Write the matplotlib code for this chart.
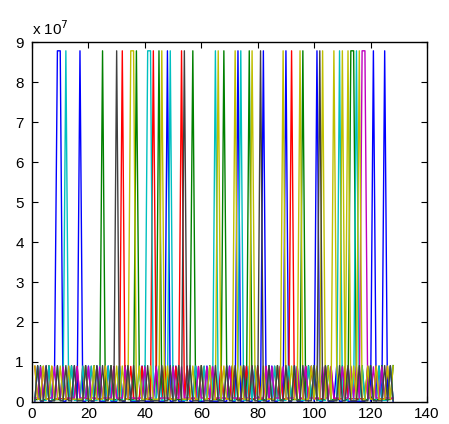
import numpy as np
import matplotlib
matplotlib.use("Agg")
import matplotlib.pyplot as plt

plt.rcParams.update({'font.size': 11, 'font.family': 'Liberation Sans'})

# x runs over 1..128 samples
n_samples = 128

# MATLAB-like colour order
colors = [(0, 0, 1), (0, 0.5, 0), (1, 0, 0), (0, 0.75, 0.75),
          (0.75, 0, 0.75), (0.75, 0.75, 0), (0.25, 0.25, 0.25)]

# tall spikes (x positions) per series
high_blue = [9, 10, 17, 48, 73, 82, 90, 101, 121, 125]
high_green = [25, 37, 45, 57, 68, 77, 96, 113, 114]
high_red = [32, 43, 53, 92]
high_cyan = [12, 41, 42, 49, 65, 74, 109, 115]
high_magenta = [117, 118]
high_yellow = [35, 36, 46, 66, 72, 78, 89, 95, 103, 107, 110, 112, 116]
high_gray = [30, 54, 81, 102]

# small peaks (x positions) per series
low_blue = [2, 5, 8, 13, 15, 20, 23, 27, 31, 34, 39, 44, 51, 55, 58, 62, 67, 70,
            76, 79, 85, 88, 93, 97, 99, 104, 108, 111, 119, 123, 127]
low_green = [3, 6, 11, 14, 19, 22, 28, 33, 38, 40, 47, 50, 56, 60, 63, 69, 71, 75,
             80, 84, 87, 91, 98, 100, 105, 110, 117, 120, 124, 128]
low_red = [1, 4, 7, 16, 18, 21, 26, 29, 35, 39, 44, 47, 51, 55, 59, 61, 64, 67, 71,
           76, 80, 83, 86, 88, 94, 97, 99, 104, 106, 111, 119, 122, 126]
low_cyan = [2, 6, 9, 14, 18, 21, 24, 27, 31, 34, 38, 45, 52, 56, 58, 61, 63, 69, 73,
            77, 79, 84, 86, 91, 93, 98, 100, 105, 113, 117, 120, 123, 127]
low_magenta = [3, 5, 8, 11, 16, 20, 24, 29, 33, 40, 44, 50, 53, 59, 62, 64, 70, 75,
               78, 83, 85, 89, 94, 97, 103, 106, 110, 113, 115, 121, 124]
low_yellow = [1, 4, 7, 10, 13, 19, 22, 26, 30, 32, 38, 42, 48, 52, 57, 60, 63, 68,
              74, 79, 82, 87, 92, 99, 101, 105, 108, 114, 119, 122, 126, 128]
low_gray = [2, 5, 9, 12, 15, 19, 23, 25, 28, 34, 36, 41, 46, 49, 52, 56, 60, 65, 69,
            72, 75, 78, 84, 87, 90, 93, 96, 100, 104, 109, 112, 116, 120, 125, 127]

high_level = 8.78e7
low_levels = [0.90e7, 0.91e7, 0.89e7, 0.90e7, 0.88e7, 0.90e7, 0.91e7]
base_levels = [0.02e7, 0.06e7, 0.08e7, 0.04e7, 0.10e7, 0.07e7, 0.03e7]

highs = [high_blue, high_green, high_red, high_cyan, high_magenta, high_yellow, high_gray]
lows = [low_blue, low_green, low_red, low_cyan, low_magenta, low_yellow, low_gray]

x = np.arange(1, n_samples + 1)

fig = plt.figure(figsize=(4.49, 4.24), dpi=100)
ax = fig.add_axes([0.0713, 0.0519, 0.8797, 0.849])

for col, hi, lo, lv, bs in zip(colors, highs, lows, low_levels, base_levels):
    y = np.full(n_samples, bs)
    y[np.array(lo) - 1] = lv
    y[np.array(hi) - 1] = high_level
    ax.plot(x, y, color=col, linewidth=1.0)

ax.set_xlim(0, 140)
ax.set_ylim(0, 9e7)
ax.set_xticks(range(0, 141, 20))
ax.set_yticks([i * 1e7 for i in range(10)])
ax.set_yticklabels([str(i) for i in range(10)])
ax.tick_params(direction='in', top=True, right=True, length=4, labelsize=11)
ax.tick_params(axis='y', pad=6)
for s in ax.spines.values():
    s.set_linewidth(1.0)
ax.text(0.0, 1.012, r'x 10$^{7}$', transform=ax.transAxes, ha='left', va='bottom',
        fontsize=11)

fig.savefig("out.png", dpi=100)
